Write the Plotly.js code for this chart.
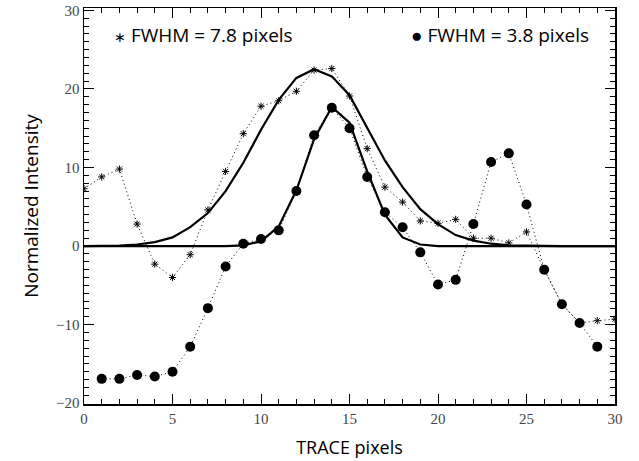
<!DOCTYPE html>
<html>
<head>
<meta charset="utf-8">
<script src="https://cdn.plot.ly/plotly-3.0.1.min.js"></script>
<style>html,body{margin:0;padding:0;background:#fff;}#chart{width:639px;height:461px;}</style>
</head>
<body>
<div id="chart"></div>
<script>
// pixel positions along the trace
const xStar = [0,1,2,3,4,5,6,7,8,9,10,11,12,13,14,15,16,17,18,19,20,21,22,23,24,25,26,27,28,29,30];
const yStar = [7.3,8.8,9.8,2.8,-2.3,-4.0,-1.1,4.6,9.5,14.3,17.8,18.5,19.7,22.4,22.6,19.1,12.4,7.5,5.6,3.2,2.9,3.4,1.0,1.0,0.4,1.8,-3.0,-7.4,-9.8,-9.5,-9.3];

const xDot = [1,2,3,4,5,6,7,8,9,10,11,12,13,14,15,16,17,18,19,20,21,22,23,24,25,26,27,28,29];
const yDot = [-16.9,-16.9,-16.4,-16.6,-16.0,-12.8,-7.9,-2.6,0.3,0.9,2.0,7.0,14.1,17.6,15.0,8.8,4.3,2.4,-0.8,-4.9,-4.3,2.8,10.7,11.8,5.3,-3.0,-7.4,-9.8,-12.8];

const xFit = [0,1,2,3,4,5,6,7,8,9,10,11,12,13,14,15,16,17,18,19,20,21,22,23,24,25,26,27,28,29,30];
const yFitWide = [0,0,0.05,0.2,0.5,1.1,2.4,4.2,7.0,10.6,14.8,18.6,21.4,22.5,21.6,19.2,15.0,10.9,7.5,4.7,2.8,1.4,0.7,0.3,0.1,0.05,0,0,0,0,0];
const yFitNarrow = [0,0,0,0,0,0,0,0,0,0.1,0.6,2.5,7.1,13.6,17.7,15.7,9.5,4.0,1.1,0.2,0,0,0,0,0,0,0,0,0,0,0];

const legendWide = "<span style=\"font-size:14px\">\u2217</span> FWHM = 7.8 pixels";
const legendNarrow = "\u25CF FWHM = 3.8 pixels";
const xTitle = "TRACE pixels";
const yTitle = "Normalized Intensity";

const dotted = '1px,3px';
const traces = [
  {x: xStar, y: yStar, mode: 'lines+markers', type: 'scatter',
   line: {color: '#000', width: 1, dash: dotted},
   marker: {symbol: 'asterisk', size: 6, color: '#000', line: {color: '#000', width: 1}}},
  {x: xDot, y: yDot, mode: 'lines+markers', type: 'scatter',
   line: {color: '#000', width: 1, dash: dotted},
   marker: {symbol: 'circle', size: 10, color: '#000'}},
  {x: xFit, y: yFitWide, mode: 'lines', type: 'scatter', line: {color: '#000', width: 2.2}},
  {x: xFit, y: yFitNarrow, mode: 'lines', type: 'scatter', line: {color: '#000', width: 2.2}}
];

const tickFont = {family: 'Liberation Serif, DejaVu Serif, serif', size: 15, color: '#444'};
const axisCommon = {
  showgrid: false, zeroline: false, showline: true, linecolor: '#000', linewidth: 1.5,
  mirror: 'ticks', ticks: 'inside', ticklen: 10, tickwidth: 1, tickcolor: '#000',
  tickfont: tickFont, ticklabeloverflow: 'allow',
  minor: {ticks: 'inside', ticklen: 5, dtick: 1, tickwidth: 1, tickcolor: '#000', showgrid: false}
};

const layout = {
  width: 639, height: 461,
  margin: {l: 84, r: 24, t: 8, b: 57},
  paper_bgcolor: '#fff', plot_bgcolor: '#fff',
  showlegend: false,
  font: {family: 'Open Sans, sans-serif', color: '#000'},
  xaxis: Object.assign({}, axisCommon, {
    range: [0, 30], tickmode: 'array', tickvals: [0,5,10,15,20,25,30],
    ticktext: ['0','5','10','15','20','25','30'],
    title: {text: xTitle, font: {family: 'Open Sans, sans-serif', size: 18, color: '#000'}, standoff: 16}
  }),
  yaxis: Object.assign({}, axisCommon, {
    range: [-20.1, 30.3], tickmode: 'array', tickvals: [-20,-10,0,10,20,30],
    ticktext: ['\u221220','\u221210','0','10','20','30'],
    title: {text: yTitle, font: {family: 'Open Sans, sans-serif', size: 19, color: '#000'}, standoff: 12}
  }),
  annotations: [
    {xref: 'paper', yref: 'paper', x: 0.052, y: 0.932, xanchor: 'left', yanchor: 'middle',
     text: legendWide, showarrow: false, font: {family: 'Open Sans, sans-serif', size: 19, color: '#000'}},
    {xref: 'paper', yref: 'paper', x: 0.612, y: 0.932, xanchor: 'left', yanchor: 'middle',
     text: legendNarrow, showarrow: false, font: {family: 'Open Sans, sans-serif', size: 19, color: '#000'}}
  ]
};

Plotly.newPlot('chart', traces, layout, {staticPlot: true, displayModeBar: false});
</script>
</body>
</html>
